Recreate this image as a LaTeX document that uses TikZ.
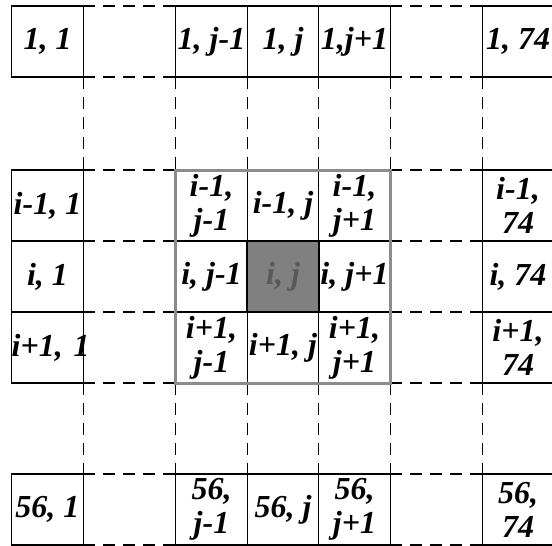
\documentclass[tikz,border=0pt]{standalone}
\usepackage{fontspec}
\setmainfont{Liberation Serif}
\usepackage{tikz}
\usetikzlibrary{positioning}

\begin{document}
\begin{tikzpicture}[
  x=1pt, y=-1pt,
  node distance = 0pt,
  cell/.style = {
    rectangle, draw=black, line width=1.2pt,
    outer sep=0pt, inner sep=0pt,
    minimum width=71.5pt, minimum height=71pt,
    align=center, font=\fontsize{32}{34}\selectfont\bfseries\itshape
  },
  tight/.style   = {cell, text width=71.5pt},
  focus/.style   = {cell, fill=black!50, line width=2.2pt, text=black!65},
  gapline/.style = {dash pattern=on 12pt off 8pt, line width=1.3pt},
  hood/.style    = {draw=black!45, line width=3pt}
]
\useasboundingbox (0,0) rectangle (552,546);

%% ---- first column ----
\node[cell] (1-1) at (47.5,41.5) {1, 1};
\node[cell, below=93pt of 1-1] (im-1) {i-1, 1};
\node[cell, below=of im-1] (i-1) {i, 1};
\node[tight, below=of i-1] (ip-1) {i+1,~1};
\node[cell, below=91pt of ip-1] (56-1) {56, 1};

%% ---- row 1 ----
\node[cell, right=92.5pt of 1-1] (1-jm) {1, j-1};
\node[cell, right=of 1-jm] (1-j) {1, j};
\node[cell, right=of 1-j] (1-jp) {1,j+1};
\node[cell, right=92pt of 1-jp] (1-74) {1, 74};

%% ---- row i-1 ----
\node[cell, right=92.5pt of im-1] (im-jm) {i-1,\\j-1};
\node[cell, right=of im-jm] (im-j) {i-1, j};
\node[cell, right=of im-j] (im-jp) {i-1,\\j+1};
\node[cell, right=92pt of im-jp] (im-74) {i-1,\\74};

%% ---- row i ----
\node[cell, right=92.5pt of i-1] (i-jm) {i, j-1};
\node[focus, right=of i-jm] (i-j) {i, j};
\node[cell, right=of i-j] (i-jp) {i, j+1};
\node[cell, right=92pt of i-jp] (i-74) {i, 74};

%% ---- row i+1 ----
\node[cell, right=92.5pt of ip-1] (ip-jm) {i+1,\\j-1};
\node[cell, right=of ip-jm] (ip-j) {i+1, j};
\node[cell, right=of ip-j] (ip-jp) {i+1,\\j+1};
\node[cell, right=92pt of ip-jp] (ip-74) {i+1,\\74};

%% ---- row 56 ----
\node[cell, right=92.5pt of 56-1] (56-jm) {56,\\j-1};
\node[cell, right=of 56-jm] (56-j) {56, j};
\node[cell, right=of 56-j] (56-jp) {56,\\j+1};
\node[cell, right=92pt of 56-jp] (56-74) {56,\\74};

%% ---- skipped columns ----
\foreach \r in {1,im,i,ip,56} {
  \draw[gapline] (\r-1.north east) -- (\r-jm.north west);
  \draw[gapline] (\r-1.south east) -- (\r-jm.south west);
  \draw[gapline] (\r-jp.north east) -- (\r-74.north west);
  \draw[gapline] (\r-jp.south east) -- (\r-74.south west);
}

%% ---- skipped rows ----
\foreach \c/\a in {1/east, jm/west, jm/east, j/east, jp/east, 74/west} {
  \draw[gapline] (1-\c.south \a) -- (im-\c.north \a);
  \draw[gapline] (ip-\c.south \a) -- (56-\c.north \a);
}

%% ---- neighbourhood of (i, j) ----
\draw[hood] (im-jm.north west) rectangle (ip-jp.south east);

\end{tikzpicture}
\end{document}
